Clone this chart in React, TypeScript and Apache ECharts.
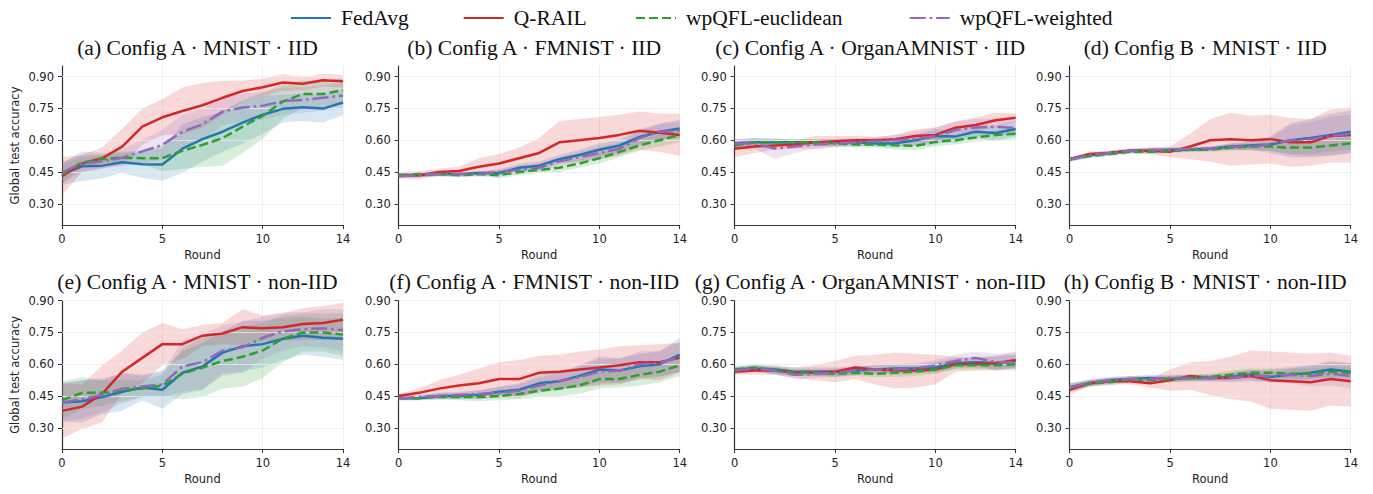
import React, { useEffect, useRef } from "react";
import * as echarts from "echarts";

// ---------- data ----------
const ROUNDS = [0, 1, 2, 3, 4, 5, 6, 7, 8, 9, 10, 11, 12, 13, 14];
const SERIES_NAMES = ["FedAvg", "Q-RAIL", "wpQFL-euclidean", "wpQFL-weighted"];
const X_TICKS = [0, 5, 10, 14];
const Y_TICKS = [0.3, 0.45, 0.6, 0.75, 0.9];
const TITLES = [
  "(a) Config A · MNIST · IID",
  "(b) Config A · FMNIST · IID",
  "(c) Config A · OrganAMNIST · IID",
  "(d) Config B · MNIST · IID",
  "(e) Config A · MNIST · non-IID",
  "(f) Config A · FMNIST · non-IID",
  "(g) Config A · OrganAMNIST · non-IID",
  "(h) Config B · MNIST · non-IID",
];

// (a)
const a_fedavg = [0.44, 0.477, 0.48, 0.496, 0.487, 0.485, 0.56, 0.605, 0.64, 0.683, 0.72, 0.748, 0.755, 0.749, 0.778];
const a_qrail = [0.43, 0.49, 0.515, 0.57, 0.664, 0.708, 0.738, 0.765, 0.8, 0.832, 0.85, 0.872, 0.866, 0.883, 0.878];
const a_euc = [0.44, 0.495, 0.51, 0.518, 0.515, 0.515, 0.55, 0.578, 0.61, 0.664, 0.715, 0.782, 0.818, 0.818, 0.836];
const a_wei = [0.448, 0.49, 0.5, 0.517, 0.547, 0.578, 0.64, 0.675, 0.735, 0.754, 0.762, 0.785, 0.79, 0.8, 0.81];
const a_fedavg_sd = [0.05, 0.07, 0.06, 0.05, 0.065, 0.075, 0.115, 0.105, 0.095, 0.1, 0.09, 0.065, 0.065, 0.065, 0.06];
const a_qrail_sd = [0.09, 0.04, 0.05, 0.085, 0.085, 0.085, 0.11, 0.105, 0.08, 0.05, 0.04, 0.04, 0.03, 0.03, 0.03];
const a_euc_sd = [0.045, 0.025, 0.02, 0.02, 0.03, 0.06, 0.085, 0.105, 0.13, 0.125, 0.11, 0.08, 0.065, 0.06, 0.055];
const a_wei_sd = [0.05, 0.04, 0.03, 0.04, 0.055, 0.07, 0.08, 0.075, 0.065, 0.065, 0.065, 0.065, 0.06, 0.06, 0.06];

// (b)
const b_fedavg = [0.435, 0.435, 0.44, 0.44, 0.445, 0.445, 0.47, 0.48, 0.51, 0.53, 0.555, 0.575, 0.615, 0.64, 0.655];
const b_qrail = [0.435, 0.435, 0.45, 0.455, 0.475, 0.49, 0.515, 0.54, 0.59, 0.6, 0.61, 0.625, 0.645, 0.635, 0.625];
const b_euc = [0.435, 0.44, 0.44, 0.435, 0.44, 0.435, 0.45, 0.46, 0.47, 0.49, 0.515, 0.545, 0.575, 0.6, 0.625];
const b_wei = [0.43, 0.435, 0.44, 0.44, 0.44, 0.45, 0.46, 0.47, 0.5, 0.52, 0.54, 0.56, 0.61, 0.64, 0.645];
const b_fedavg_sd = [0.01, 0.01, 0.01, 0.01, 0.01, 0.015, 0.02, 0.02, 0.02, 0.025, 0.03, 0.03, 0.035, 0.04, 0.04];
const b_qrail_sd = [0.015, 0.02, 0.015, 0.02, 0.04, 0.045, 0.05, 0.07, 0.1, 0.1, 0.1, 0.095, 0.09, 0.09, 0.1];
const b_euc_sd = [0.01, 0.01, 0.01, 0.01, 0.01, 0.015, 0.015, 0.015, 0.02, 0.02, 0.025, 0.025, 0.025, 0.03, 0.035];
const b_wei_sd = [0.01, 0.01, 0.01, 0.01, 0.01, 0.015, 0.02, 0.02, 0.02, 0.025, 0.03, 0.03, 0.035, 0.035, 0.04];

// (c)
const c_fedavg = [0.585, 0.59, 0.59, 0.59, 0.59, 0.59, 0.59, 0.585, 0.585, 0.6, 0.62, 0.618, 0.64, 0.634, 0.653];
const c_qrail = [0.56, 0.57, 0.575, 0.58, 0.59, 0.595, 0.6, 0.6, 0.605, 0.62, 0.625, 0.659, 0.672, 0.694, 0.706];
const c_euc = [0.575, 0.59, 0.59, 0.59, 0.59, 0.585, 0.58, 0.58, 0.576, 0.573, 0.592, 0.6, 0.613, 0.625, 0.63];
const c_wei = [0.585, 0.585, 0.561, 0.57, 0.58, 0.585, 0.59, 0.595, 0.6, 0.605, 0.62, 0.648, 0.66, 0.663, 0.658];
const c_fedavg_sd = [0.02, 0.02, 0.015, 0.015, 0.015, 0.015, 0.015, 0.015, 0.02, 0.025, 0.03, 0.03, 0.03, 0.035, 0.035];
const c_qrail_sd = [0.04, 0.03, 0.02, 0.02, 0.03, 0.025, 0.02, 0.015, 0.02, 0.03, 0.035, 0.03, 0.035, 0.035, 0.02];
const c_euc_sd = [0.015, 0.015, 0.015, 0.015, 0.015, 0.015, 0.015, 0.015, 0.02, 0.02, 0.02, 0.02, 0.02, 0.025, 0.025];
const c_wei_sd = [0.02, 0.025, 0.05, 0.03, 0.02, 0.02, 0.02, 0.02, 0.025, 0.035, 0.04, 0.04, 0.04, 0.04, 0.035];

// (d)
const d_fedavg = [0.51, 0.53, 0.54, 0.55, 0.55, 0.555, 0.555, 0.56, 0.57, 0.575, 0.58, 0.6, 0.61, 0.625, 0.64];
const d_qrail = [0.51, 0.535, 0.54, 0.55, 0.55, 0.545, 0.57, 0.6, 0.605, 0.6, 0.605, 0.59, 0.59, 0.62, 0.625];
const d_euc = [0.51, 0.525, 0.535, 0.545, 0.545, 0.55, 0.555, 0.555, 0.565, 0.57, 0.57, 0.565, 0.565, 0.575, 0.585];
const d_wei = [0.51, 0.53, 0.54, 0.55, 0.555, 0.555, 0.56, 0.56, 0.57, 0.57, 0.58, 0.6, 0.605, 0.62, 0.63];
const d_fedavg_sd = [0.01, 0.01, 0.01, 0.01, 0.01, 0.01, 0.01, 0.01, 0.015, 0.02, 0.04, 0.08, 0.09, 0.1, 0.1];
const d_qrail_sd = [0.01, 0.01, 0.01, 0.01, 0.015, 0.025, 0.06, 0.1, 0.125, 0.115, 0.115, 0.115, 0.11, 0.125, 0.13];
const d_euc_sd = [0.01, 0.01, 0.01, 0.01, 0.01, 0.01, 0.01, 0.01, 0.015, 0.015, 0.02, 0.03, 0.03, 0.03, 0.03];
const d_wei_sd = [0.01, 0.01, 0.01, 0.01, 0.01, 0.01, 0.01, 0.01, 0.015, 0.02, 0.03, 0.07, 0.08, 0.09, 0.09];

// (e)
const e_fedavg = [0.42, 0.425, 0.445, 0.47, 0.49, 0.48, 0.56, 0.59, 0.655, 0.685, 0.695, 0.72, 0.735, 0.725, 0.72];
const e_qrail = [0.38, 0.4, 0.46, 0.565, 0.63, 0.695, 0.695, 0.735, 0.745, 0.775, 0.77, 0.775, 0.79, 0.795, 0.81];
const e_euc = [0.43, 0.465, 0.465, 0.475, 0.485, 0.5, 0.555, 0.585, 0.615, 0.635, 0.665, 0.72, 0.75, 0.75, 0.74];
const e_wei = [0.42, 0.435, 0.455, 0.485, 0.495, 0.505, 0.59, 0.61, 0.665, 0.68, 0.725, 0.755, 0.765, 0.77, 0.76];
const e_fedavg_sd = [0.09, 0.1, 0.08, 0.09, 0.06, 0.09, 0.1, 0.11, 0.1, 0.12, 0.11, 0.1, 0.09, 0.09, 0.1];
const e_qrail_sd = [0.13, 0.105, 0.135, 0.1, 0.12, 0.1, 0.07, 0.05, 0.05, 0.085, 0.06, 0.065, 0.075, 0.08, 0.08];
const e_euc_sd = [0.09, 0.075, 0.06, 0.05, 0.04, 0.05, 0.12, 0.14, 0.13, 0.14, 0.13, 0.11, 0.09, 0.09, 0.1];
const e_wei_sd = [0.09, 0.09, 0.08, 0.07, 0.05, 0.06, 0.12, 0.13, 0.12, 0.12, 0.1, 0.09, 0.08, 0.09, 0.1];

// (f)
const f_fedavg = [0.44, 0.44, 0.45, 0.45, 0.455, 0.47, 0.48, 0.51, 0.52, 0.545, 0.575, 0.57, 0.59, 0.6, 0.645];
const f_qrail = [0.45, 0.465, 0.485, 0.5, 0.51, 0.53, 0.53, 0.56, 0.565, 0.575, 0.585, 0.595, 0.61, 0.61, 0.63];
const f_euc = [0.44, 0.44, 0.445, 0.445, 0.445, 0.45, 0.46, 0.475, 0.485, 0.5, 0.53, 0.53, 0.55, 0.565, 0.595];
const f_wei = [0.44, 0.445, 0.45, 0.455, 0.46, 0.465, 0.475, 0.5, 0.52, 0.54, 0.565, 0.57, 0.6, 0.605, 0.635];
const f_fedavg_sd = [0.01, 0.01, 0.015, 0.015, 0.02, 0.025, 0.03, 0.04, 0.04, 0.05, 0.06, 0.06, 0.06, 0.06, 0.08];
const f_qrail_sd = [0.01, 0.02, 0.04, 0.05, 0.07, 0.08, 0.09, 0.08, 0.08, 0.085, 0.085, 0.09, 0.08, 0.085, 0.07];
const f_euc_sd = [0.01, 0.01, 0.01, 0.015, 0.02, 0.02, 0.025, 0.03, 0.035, 0.04, 0.045, 0.04, 0.05, 0.05, 0.05];
const f_wei_sd = [0.01, 0.01, 0.015, 0.015, 0.02, 0.025, 0.03, 0.035, 0.04, 0.05, 0.06, 0.055, 0.06, 0.06, 0.07];

// (g)
const g_fedavg = [0.575, 0.58, 0.575, 0.565, 0.565, 0.565, 0.57, 0.575, 0.58, 0.58, 0.585, 0.605, 0.61, 0.605, 0.615];
const g_qrail = [0.565, 0.57, 0.57, 0.56, 0.56, 0.565, 0.585, 0.575, 0.57, 0.57, 0.575, 0.6, 0.6, 0.605, 0.62];
const g_euc = [0.575, 0.585, 0.57, 0.56, 0.56, 0.555, 0.56, 0.555, 0.56, 0.565, 0.575, 0.595, 0.595, 0.595, 0.6];
const g_wei = [0.57, 0.58, 0.57, 0.55, 0.555, 0.56, 0.57, 0.575, 0.575, 0.58, 0.595, 0.615, 0.63, 0.61, 0.61];
const g_fedavg_sd = [0.015, 0.015, 0.02, 0.02, 0.02, 0.02, 0.02, 0.02, 0.02, 0.02, 0.025, 0.025, 0.025, 0.03, 0.03];
const g_qrail_sd = [0.015, 0.02, 0.02, 0.025, 0.035, 0.05, 0.055, 0.07, 0.085, 0.08, 0.07, 0.035, 0.03, 0.035, 0.04];
const g_euc_sd = [0.015, 0.015, 0.015, 0.015, 0.015, 0.015, 0.015, 0.015, 0.02, 0.02, 0.02, 0.02, 0.02, 0.02, 0.02];
const g_wei_sd = [0.015, 0.015, 0.02, 0.02, 0.02, 0.02, 0.02, 0.02, 0.025, 0.025, 0.025, 0.03, 0.03, 0.04, 0.04];

// (h)
const h_fedavg = [0.49, 0.51, 0.525, 0.53, 0.535, 0.53, 0.535, 0.535, 0.54, 0.55, 0.54, 0.55, 0.56, 0.575, 0.565];
const h_qrail = [0.48, 0.51, 0.52, 0.52, 0.51, 0.525, 0.545, 0.535, 0.535, 0.545, 0.525, 0.52, 0.515, 0.53, 0.52];
const h_euc = [0.49, 0.51, 0.515, 0.53, 0.525, 0.53, 0.535, 0.54, 0.55, 0.56, 0.56, 0.555, 0.555, 0.565, 0.56];
const h_wei = [0.49, 0.515, 0.525, 0.53, 0.53, 0.535, 0.535, 0.535, 0.535, 0.545, 0.545, 0.55, 0.545, 0.555, 0.545];
const h_fedavg_sd = [0.02, 0.015, 0.015, 0.015, 0.015, 0.015, 0.015, 0.015, 0.02, 0.025, 0.025, 0.03, 0.035, 0.04, 0.04];
const h_qrail_sd = [0.02, 0.015, 0.015, 0.015, 0.02, 0.05, 0.065, 0.08, 0.1, 0.12, 0.135, 0.135, 0.135, 0.125, 0.12];
const h_euc_sd = [0.02, 0.015, 0.015, 0.015, 0.015, 0.015, 0.015, 0.015, 0.02, 0.02, 0.02, 0.025, 0.025, 0.025, 0.025];
const h_wei_sd = [0.02, 0.015, 0.015, 0.015, 0.015, 0.015, 0.015, 0.015, 0.02, 0.025, 0.03, 0.04, 0.05, 0.055, 0.06];

const PANEL_MEANS = [
  [a_fedavg, a_qrail, a_euc, a_wei],
  [b_fedavg, b_qrail, b_euc, b_wei],
  [c_fedavg, c_qrail, c_euc, c_wei],
  [d_fedavg, d_qrail, d_euc, d_wei],
  [e_fedavg, e_qrail, e_euc, e_wei],
  [f_fedavg, f_qrail, f_euc, f_wei],
  [g_fedavg, g_qrail, g_euc, g_wei],
  [h_fedavg, h_qrail, h_euc, h_wei],
];
const PANEL_SDS = [
  [a_fedavg_sd, a_qrail_sd, a_euc_sd, a_wei_sd],
  [b_fedavg_sd, b_qrail_sd, b_euc_sd, b_wei_sd],
  [c_fedavg_sd, c_qrail_sd, c_euc_sd, c_wei_sd],
  [d_fedavg_sd, d_qrail_sd, d_euc_sd, d_wei_sd],
  [e_fedavg_sd, e_qrail_sd, e_euc_sd, e_wei_sd],
  [f_fedavg_sd, f_qrail_sd, f_euc_sd, f_wei_sd],
  [g_fedavg_sd, g_qrail_sd, g_euc_sd, g_wei_sd],
  [h_fedavg_sd, h_qrail_sd, h_euc_sd, h_wei_sd],
];
const Y_MIN = 0.2;
const Y_MAX_ROW = [0.95, 0.9];

// ---------- styles / layout ----------
const COLORS = ["#1f77b4", "#d62728", "#2ca02c", "#9467bd"];
const DASHES: any[] = ["solid", "solid", [9, 4], [16, 4, 2.5, 4]];
const LINE_W = 2.5;
const GRID_LEFT = [62, 398.7, 734.7, 1069.7];
const GRID_W = 281;
const ROW_TOP = [66, 300.7];
const ROW_H = [159, 148.3];
const TITLE_Y = [48, 282];
const TITLE_SHIFT = -5;
const TITLE_SIZE = 21.6;
const LEGEND_X = [290, 462.7, 635, 908.7];
const AXIS_COLOR = "#333";
const SANS = "DejaVu Sans";
const SERIF = "Liberation Serif";

function buildOption() {
  const grids: any[] = [];
  const xAxes: any[] = [];
  const yAxes: any[] = [];
  const bandSeries: any[] = [];
  const lineSeries: any[] = [];
  const graphics: any[] = [];
  const showX = (idx: number) => X_TICKS.includes(idx);

  PANEL_MEANS.forEach((means, p) => {
    const row = Math.floor(p / 4);
    const col = p % 4;
    grids.push({
      left: GRID_LEFT[col],
      top: ROW_TOP[row],
      width: GRID_W,
      height: ROW_H[row],
      containLabel: false,
      outerBoundsMode: "none",
    });
    xAxes.push({
      type: "category",
      gridIndex: p,
      data: ROUNDS.map(String),
      boundaryGap: false,
      name: "Round",
      nameLocation: "middle",
      nameGap: 24,
      nameTextStyle: { fontFamily: SANS, fontSize: 11.5, color: "#222" },
      axisLine: { show: true, onZero: false, lineStyle: { color: AXIS_COLOR, width: 1.2 } },
      axisTick: { show: true, interval: showX, length: 4, lineStyle: { color: AXIS_COLOR, width: 1 } },
      axisLabel: { interval: showX, margin: 8, fontFamily: SANS, fontSize: 11.5, color: "#222" },
      splitLine: { show: true, interval: showX, lineStyle: { color: "#ebebeb", width: 0.8 } },
    });
    yAxes.push({
      type: "value",
      gridIndex: p,
      min: Y_MIN,
      max: Y_MAX_ROW[row],
      name: col === 0 ? "Global test accuracy" : "",
      nameLocation: "middle",
      nameGap: 41,
      nameTextStyle: { fontFamily: SANS, fontSize: 11.5, color: "#222" },
      axisLine: { show: true, lineStyle: { color: AXIS_COLOR, width: 1.2 } },
      axisTick: { show: true, customValues: Y_TICKS, length: 4, lineStyle: { color: AXIS_COLOR, width: 1 } },
      axisLabel: {
        customValues: Y_TICKS,
        formatter: (v: number) => v.toFixed(2),
        margin: 8,
        fontFamily: SANS,
        fontSize: 11.5,
        color: "#222",
      },
      splitLine: { show: false },
    });

    means.forEach((mean, s) => {
      const sd = PANEL_SDS[p][s];
      const stack = `band-${p}-${s}`;
      const lower: any = {
        type: "line",
        name: `band-low-${p}-${s}`,
        xAxisIndex: p,
        yAxisIndex: p,
        stack,
        data: mean.map((m, i) => +(m - sd[i]).toFixed(4)),
        symbol: "none",
        silent: true,
        lineStyle: { opacity: 0, width: 0 },
        z: 2,
      };
      if (s === 0) {
        lower.markLine = {
          silent: true,
          symbol: ["none", "none"],
          label: { show: false },
          lineStyle: { color: "#ebebeb", width: 0.8, type: "solid" },
          emphasis: { disabled: true },
          data: Y_TICKS.map((v) => ({ yAxis: v })),
        };
      }
      bandSeries.push(lower);
      bandSeries.push({
        type: "line",
        name: `band-up-${p}-${s}`,
        xAxisIndex: p,
        yAxisIndex: p,
        stack,
        data: sd.map((v) => +(2 * v).toFixed(4)),
        symbol: "none",
        silent: true,
        lineStyle: { opacity: 0, width: 0 },
        areaStyle: { color: COLORS[s], opacity: 0.18 },
        z: 2,
      });
      lineSeries.push({
        type: "line",
        name: SERIES_NAMES[s],
        xAxisIndex: p,
        yAxisIndex: p,
        data: mean,
        symbol: "none",
        showSymbol: false,
        color: COLORS[s],
        lineStyle: { color: COLORS[s], width: LINE_W, type: DASHES[s] },
        z: 10,
      });
    });

    graphics.push({
      type: "text",
      x: GRID_LEFT[col] + GRID_W / 2 + TITLE_SHIFT,
      y: TITLE_Y[row],
      silent: true,
      style: {
        text: TITLES[p],
        fontFamily: SERIF,
        fontSize: TITLE_SIZE,
        fill: "#111",
        align: "center",
        verticalAlign: "middle",
      },
    });
  });

  const legends = SERIES_NAMES.map((n, i) => ({
    data: [n],
    left: LEGEND_X[i],
    top: 2,
    padding: [5, 0, 5, 0],
    itemWidth: 40,
    itemHeight: 14,
    selectedMode: false,
    itemStyle: { color: "rgba(0,0,0,0)", borderColor: "rgba(0,0,0,0)", borderWidth: 0 },
    textStyle: { fontFamily: SERIF, fontSize: 21.5, color: "#111", padding: [0, 0, 0, 5] },
  }));

  return {
    animation: false,
    backgroundColor: "#ffffff",
    grid: grids,
    xAxis: xAxes,
    yAxis: yAxes,
    legend: legends,
    graphic: graphics,
    series: [...bandSeries, ...lineSeries],
  };
}

export default function App() {
  const ref = useRef<HTMLDivElement>(null);
  useEffect(() => {
    document.body.style.margin = "0";
    const chart = echarts.init(ref.current!, null, { renderer: "svg" });
    chart.setOption(buildOption() as any);
    return () => chart.dispose();
  }, []);
  return <div ref={ref} style={{ width: 1373, height: 494 }} />;
}
